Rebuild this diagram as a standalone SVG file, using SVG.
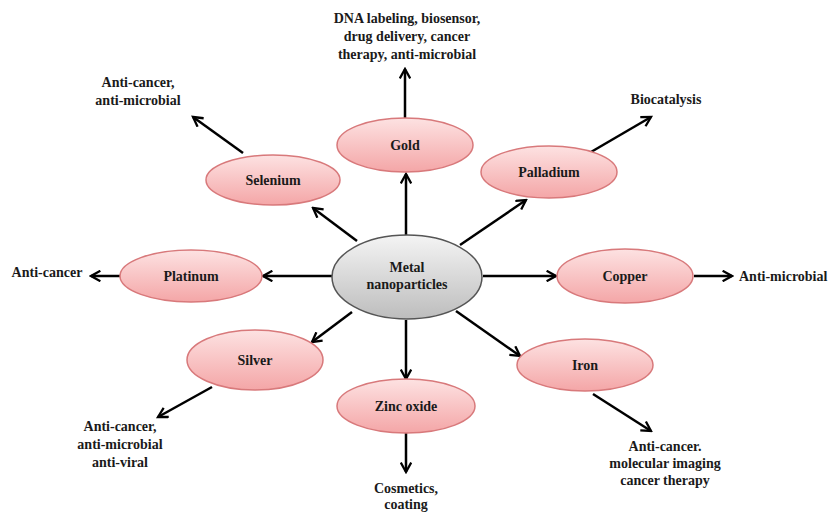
<svg xmlns="http://www.w3.org/2000/svg" width="832" height="513" viewBox="0 0 832 513">
<defs>
<linearGradient id="pink" x1="0" y1="0" x2="0" y2="1">
<stop offset="0" stop-color="#fde2e2"/>
<stop offset="1" stop-color="#f4a6a7"/>
</linearGradient>
<linearGradient id="gray" x1="0" y1="0" x2="0" y2="1">
<stop offset="0" stop-color="#f4f4f4"/>
<stop offset="1" stop-color="#bdbdbd"/>
</linearGradient>
<marker id="arr" viewBox="0 0 12 12" refX="10" refY="6" markerWidth="5" markerHeight="5" markerUnits="strokeWidth" orient="auto">
<path d="M1,1 L10,6 L1,11" fill="none" stroke="#000" stroke-width="2.2" stroke-linejoin="miter"/>
</marker>
</defs>
<style>
text{font-family:"Liberation Serif","Times New Roman",serif;font-weight:bold;font-size:14px;fill:#1a1a1a;text-anchor:middle}
.node{fill:url(#pink);stroke:#d8797b;stroke-width:1.5}
.center{fill:url(#gray);stroke:#555;stroke-width:1.5}
.c line{stroke:#000;stroke-width:2.5;marker-end:url(#arr)}
</style>
<rect width="832" height="513" fill="#fff"/>
<g id="connectors" class="c">
<line x1="406" y1="235" x2="406" y2="174"/>
<line x1="357" y1="241" x2="313" y2="208"/>
<line x1="460" y1="245" x2="526" y2="200"/>
<line x1="332" y1="276" x2="263" y2="276"/>
<line x1="483" y1="276" x2="556" y2="276"/>
<line x1="352" y1="312" x2="312" y2="342"/>
<line x1="406" y1="320" x2="406" y2="379"/>
<line x1="456" y1="311" x2="520" y2="356"/>
<line x1="405" y1="118" x2="405" y2="69"/>
<line x1="243" y1="153" x2="193" y2="117"/>
<line x1="591" y1="152" x2="651" y2="117"/>
<line x1="120" y1="276" x2="91" y2="276"/>
<line x1="694" y1="276" x2="732" y2="276"/>
<line x1="212" y1="387" x2="158" y2="417"/>
<line x1="406" y1="433" x2="406" y2="472"/>
<line x1="593" y1="394" x2="651" y2="431"/>
</g>
<g id="center">
<ellipse class="center" cx="407" cy="277" rx="75" ry="42"/>
<text x="407" y="272">Metal</text>
<text x="407" y="289">nanoparticles</text>
</g>
<g id="gold">
<ellipse class="node" cx="405" cy="145" rx="68" ry="27"/>
<text x="405" y="150">Gold</text>
</g>
<g id="selenium">
<ellipse class="node" cx="273" cy="180" rx="67" ry="25"/>
<text x="273" y="185">Selenium</text>
</g>
<g id="palladium">
<ellipse class="node" cx="549" cy="172" rx="68" ry="26"/>
<text x="549" y="177">Palladium</text>
</g>
<g id="platinum">
<ellipse class="node" cx="191" cy="276" rx="71" ry="26"/>
<text x="191" y="281">Platinum</text>
</g>
<g id="copper">
<ellipse class="node" cx="625" cy="276" rx="68" ry="27"/>
<text x="625" y="281">Copper</text>
</g>
<g id="silver">
<ellipse class="node" cx="255" cy="360" rx="68" ry="30"/>
<text x="255" y="365">Silver</text>
</g>
<g id="zinc-oxide">
<ellipse class="node" cx="406" cy="406" rx="69" ry="27"/>
<text x="406" y="411">Zinc oxide</text>
</g>
<g id="iron">
<ellipse class="node" cx="585" cy="365" rx="68" ry="26"/>
<text x="585" y="370">Iron</text>
</g>
<g id="gold-uses">
<text x="407" y="23">DNA labeling, biosensor,</text>
<text x="407" y="41">drug delivery, cancer</text>
<text x="407" y="59">therapy, anti-microbial</text>
</g>
<g id="selenium-uses">
<text x="138" y="87">Anti-cancer,</text>
<text x="138" y="105">anti-microbial</text>
</g>
<g id="palladium-uses">
<text x="666" y="104">Biocatalysis</text>
</g>
<g id="platinum-uses">
<text x="47" y="277">Anti-cancer</text>
</g>
<g id="copper-uses">
<text x="739" y="281" style="text-anchor:start">Anti-microbial</text>
</g>
<g id="silver-uses">
<text x="120" y="431">Anti-cancer,</text>
<text x="120" y="449">anti-microbial</text>
<text x="120" y="467">anti-viral</text>
</g>
<g id="zinc-uses">
<text x="406" y="493">Cosmetics,</text>
<text x="406" y="509">coating</text>
</g>
<g id="iron-uses">
<text x="665" y="451">Anti-cancer.</text>
<text x="665" y="468">molecular imaging</text>
<text x="665" y="485">cancer therapy</text>
</g>
</svg>
